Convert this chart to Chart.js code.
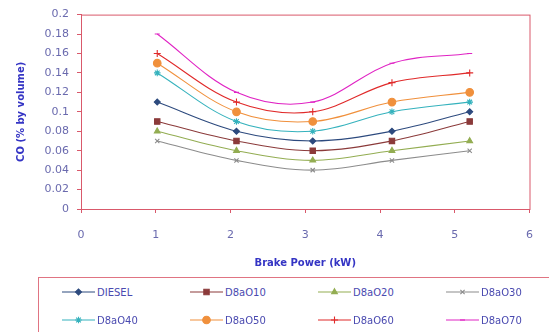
<!DOCTYPE html>
<html>
<head>
<meta charset="utf-8">
<script src="https://cdn.jsdelivr.net/npm/chart.js@4"></script>
<style>
  html, body { margin: 0; padding: 0; background: #fff; }
  #wrap { position: relative; width: 549px; height: 332px; overflow: hidden; font-family: 'DejaVu Sans', sans-serif; }
  #chart { position: absolute; left: 0; top: 0; }
  #legend {
    position: absolute; left: 38px; top: 277px; width: 520px; height: 70px;
    border: 1px solid #e07482; box-sizing: border-box;
    display: grid; grid-template-columns: repeat(4, 128px); grid-auto-rows: 28px;
    padding-left: 23px;
  }
  .item { display: flex; align-items: center; font-size: 10px; color: #4a4ab0; }
  .item canvas { margin-right: 2px; }
</style>
</head>
<body>
<div id="wrap">
  <canvas id="chart" width="549" height="277"></canvas>
  <div id="legend"></div>
</div>
<script>
// brake power (kW) at each measuring point
const brakePower = [1.02, 2.08, 3.1, 4.16, 5.2];

// CO (% by volume)
const diesel = [0.11, 0.08, 0.07, 0.08, 0.10];
const d8ao10 = [0.09, 0.07, 0.06, 0.07, 0.09];
const d8ao20 = [0.08, 0.06, 0.05, 0.06, 0.07];
const d8ao30 = [0.07, 0.05, 0.04, 0.05, 0.06];
const d8ao40 = [0.14, 0.09, 0.08, 0.10, 0.11];
const d8ao50 = [0.15, 0.10, 0.09, 0.11, 0.12];
const d8ao60 = [0.16, 0.11, 0.10, 0.13, 0.14];
const d8ao70 = [0.18, 0.12, 0.11, 0.15, 0.16];

const seriesNames = ['DIESEL', 'D8aO10', 'D8aO20', 'D8aO30', 'D8aO40', 'D8aO50', 'D8aO60', 'D8aO70'];
const seriesValues = [diesel, d8ao10, d8ao20, d8ao30, d8ao40, d8ao50, d8ao60, d8ao70];

const STYLE = [
  { color: '#2d4a7e', point: 'rectRot',  radius: 3 },
  { color: '#8b3a3a', point: 'rect',     radius: 3.8 },
  { color: '#93ad52', point: 'triangle', radius: 3.3 },
  { color: '#8c8c8c', point: 'crossRot', radius: 3 },
  { color: '#35b2bd', point: 'star',     radius: 3.3 },
  { color: '#f0903c', point: 'circle',   radius: 3.8 },
  { color: '#e02a2a', point: 'cross',    radius: 3.5 },
  { color: '#e024c4', point: 'line',     radius: 2.5 },
];

const RED = '#d9596b';
const FONT = "'DejaVu Sans', sans-serif";

const datasets = seriesNames.map((name, i) => ({
  label: name,
  data: brakePower.map((x, j) => ({ x, y: seriesValues[i][j] })),
  borderColor: STYLE[i].color,
  backgroundColor: STYLE[i].color,
  borderWidth: 1.1,
  pointStyle: STYLE[i].point,
  pointRadius: STYLE[i].radius,
  pointBorderWidth: 1.1,
  tension: 0.35,
}));

const plotFrame = {
  id: 'plotFrame',
  beforeDatasetsDraw(chart) {
    const a = chart.chartArea;
    const ctx = chart.ctx;
    ctx.save();
    ctx.strokeStyle = RED;
    ctx.lineWidth = 1;
    ctx.strokeRect(a.left + 0.5, a.top + 0.5, a.right - a.left, a.bottom - a.top);
    ctx.restore();
  },
};

new Chart(document.getElementById('chart').getContext('2d'), {
  type: 'line',
  data: { datasets },
  plugins: [plotFrame],
  options: {
    responsive: false,
    animation: false,
    layout: { padding: { left: 10, top: 11, right: 17, bottom: 0 } },
    plugins: { legend: { display: false }, tooltip: { enabled: false } },
    scales: {
      x: {
        type: 'linear', min: 0, max: 6,
        afterFit: s => { s.height = 68; },
        ticks: { stepSize: 1, padding: 16, color: '#6a6aae', font: { family: FONT, size: 11 } },
        grid: { drawOnChartArea: false, color: RED, tickLength: 4 },
        border: { color: RED },
        title: {
          display: true, text: 'Brake Power (kW)', color: '#3434c4',
          font: { family: FONT, size: 10, weight: 'bold' }, padding: { top: 4, bottom: 8 },
        },
      },
      y: {
        min: 0, max: 0.2,
        afterFit: s => { s.width = 71; },
        ticks: {
          stepSize: 0.02, padding: 8, color: '#6a6aae', font: { family: FONT, size: 11 },
          callback: v => String(+v.toFixed(2)),
        },
        grid: { drawOnChartArea: false, color: RED, tickLength: 4 },
        border: { color: RED },
        title: {
          display: true, text: 'CO (% by volume)', color: '#3434c4',
          font: { family: FONT, size: 10, weight: 'bold' }, padding: { top: 5, bottom: 4 },
        },
      },
    },
  },
});

// html legend, 4 columns like the original
const legendEl = document.getElementById('legend');
seriesNames.forEach((name, i) => {
  const item = document.createElement('div');
  item.className = 'item';
  const sw = document.createElement('canvas');
  sw.width = 33; sw.height = 12;
  const c = sw.getContext('2d');
  c.strokeStyle = STYLE[i].color;
  c.fillStyle = STYLE[i].color;
  c.lineWidth = 1.1;
  c.beginPath(); c.moveTo(0, 6); c.lineTo(33, 6); c.stroke();
  Chart.helpers.drawPoint(c, { pointStyle: STYLE[i].point, radius: STYLE[i].radius, borderWidth: 1.1, rotation: 0 }, 16.5, 6);
  const txt = document.createElement('span');
  txt.textContent = name;
  item.appendChild(sw);
  item.appendChild(txt);
  legendEl.appendChild(item);
});
</script>
</body>
</html>
